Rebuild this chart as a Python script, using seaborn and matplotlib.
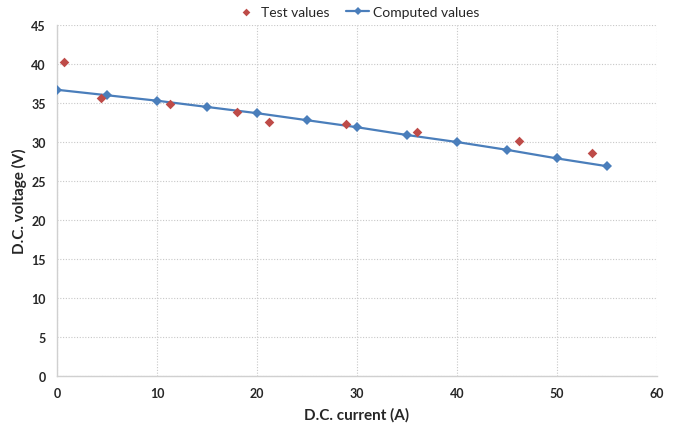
import matplotlib
matplotlib.use("Agg")
import matplotlib.pyplot as plt
import seaborn as sns
import pandas as pd

test_current = [0.7, 4.4, 11.3, 18.0, 21.2, 28.9, 36.0, 46.2, 53.5]
test_voltage = [40.3, 35.6, 34.9, 33.8, 32.6, 32.3, 31.3, 30.1, 28.6]

comp_current = [0, 5, 10, 15, 20, 25, 30, 35, 40, 45, 50, 55]
comp_voltage = [36.7, 36.0, 35.3, 34.5, 33.7, 32.8, 31.9, 30.9, 30.0, 29.0, 27.9, 26.9]

x_ticks = [0, 10, 20, 30, 40, 50, 60]
y_ticks = [0, 5, 10, 15, 20, 25, 30, 35, 40, 45]

sns.set_style("white")
plt.rcParams['font.family'] = ['Lato', 'DejaVu Sans']

test_df = pd.DataFrame({"current": test_current, "voltage": test_voltage})
comp_df = pd.DataFrame({"current": comp_current, "voltage": comp_voltage})

fig = plt.figure(figsize=(6.83, 4.27), dpi=100)
ax = fig.add_axes([0.0835, 0.117, 0.8785, 0.822])

sns.lineplot(data=comp_df, x="current", y="voltage", ax=ax, color="#4a7ebb",
             linewidth=1.6, marker="D", markersize=5, markeredgewidth=0,
             label="Computed values", zorder=3)
sns.scatterplot(data=test_df, x="current", y="voltage", ax=ax, color="#be4b48",
                marker="D", s=24, linewidth=0, label="Test values", zorder=4)

ax.set_xlim(0, 60)
ax.set_ylim(0, 45)
ax.set_xticks(x_ticks)
ax.set_yticks(y_ticks)
ax.grid(True, color="#c8c8c8", linestyle=(0, (1, 1.5)), linewidth=0.8)
ax.set_axisbelow(True)
for s in ["top", "right"]:
    ax.spines[s].set_visible(False)
for s in ["left", "bottom"]:
    ax.spines[s].set_color("#d0d0d0")
    ax.spines[s].set_linewidth(1)

ax.tick_params(axis="both", length=0, labelsize=9, labelcolor="#262626", pad=8)
for lab in ax.get_xticklabels() + ax.get_yticklabels():
    lab.set_fontweight("bold")

ax.set_xlabel("D.C. current (A)", fontsize=11, fontweight="bold", color="#262626", labelpad=6)
ax.set_ylabel("D.C. voltage (V)", fontsize=11, fontweight="bold", color="#262626", labelpad=3)

handles, labels = ax.get_legend_handles_labels()
order = [labels.index("Test values"), labels.index("Computed values")]
leg = ax.legend([handles[i] for i in order], [labels[i] for i in order],
                loc="lower center", bbox_to_anchor=(0.5, 1.0), ncol=2, frameon=False,
                fontsize=10, handlelength=1.6, columnspacing=1.2, handletextpad=0.3,
                borderaxespad=0.1, markerscale=0.8)

fig.savefig("out.png", dpi=100)
